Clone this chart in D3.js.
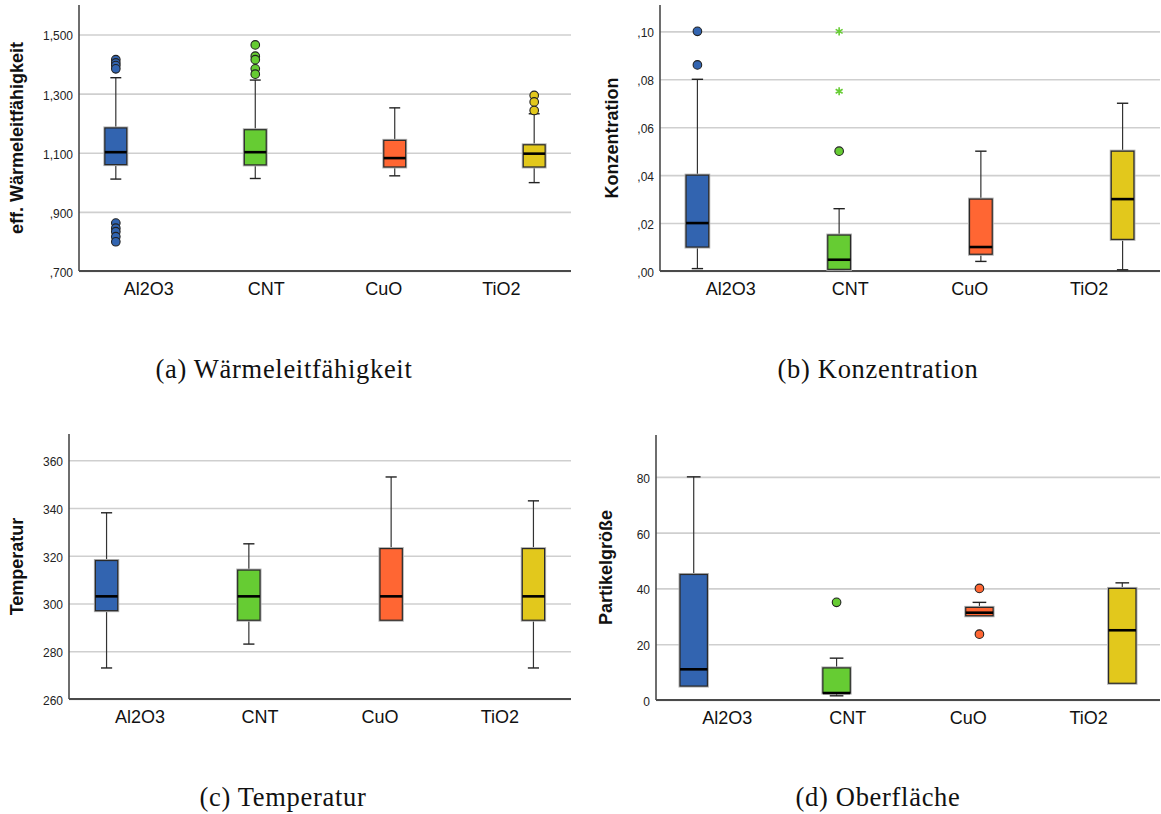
<html>
<head>
<meta charset="utf-8">
<script src="https://d3js.org/d3.v7.min.js"></script>
<style>
  body { margin: 0; background: #fff; }
  text { font-family: "Liberation Sans", Arial, sans-serif; }
</style>
</head>
<body>
<svg id="fig" width="1161" height="814"></svg>
<script>
// Kategorien und Farben
var categories = ["Al2O3", "CNT", "CuO", "TiO2"];
var colors = ["#3264b0", "#66cc33", "#ff6633", "#e2c81c"];

// (a) eff. Wärmeleitfähigkeit: [min, q1, median, q3, max]
var waermeBoxes = [
  [1.011, 1.060, 1.102, 1.184, 1.354],
  [1.013, 1.059, 1.102, 1.178, 1.346],
  [1.022, 1.052, 1.082, 1.142, 1.252],
  [0.999, 1.052, 1.097, 1.127, 1.232]
];
var waermeOutliers = [
  [1.415, 1.404, 1.395, 1.384, 0.862, 0.845, 0.833, 0.816, 0.799],
  [1.465, 1.427, 1.415, 1.384, 1.366],
  [],
  [1.294, 1.272, 1.243]
];
var waermeTicks = [0.7, 0.9, 1.1, 1.3, 1.5];
var waermeTickLabels = [",700", ",900", "1,100", "1,300", "1,500"];

// (b) Konzentration
var konzBoxes = [
  [0.001, 0.010, 0.020, 0.040, 0.080],
  [0.0004, 0.0007, 0.0047, 0.015, 0.026],
  [0.004, 0.007, 0.010, 0.030, 0.050],
  [0.0005, 0.0132, 0.030, 0.050, 0.070]
];
var konzOutliers = [[0.100, 0.086], [0.050], [], []];
var konzExtremes = [[], [0.100, 0.075], [], []];
var konzTicks = [0, 0.02, 0.04, 0.06, 0.08, 0.10];
var konzTickLabels = [",00", ",02", ",04", ",06", ",08", ",10"];

// (c) Temperatur
var tempBoxes = [
  [273, 297, 303, 318, 338],
  [283, 293, 303, 314, 325],
  [293, 293, 303, 323, 353],
  [273, 293, 303, 323, 343]
];
var tempTicks = [260, 280, 300, 320, 340, 360];
var tempTickLabels = ["260", "280", "300", "320", "340", "360"];

// (d) Partikelgröße
var partBoxes = [
  [5, 5, 11, 45, 80],
  [1.5, 2.5, 2.5, 11.5, 15],
  [30, 30.2, 31.3, 33.2, 35],
  [6, 6, 25, 40, 42]
];
var partOutliers = [[], [35], [40, 23.6], []];
var partTicks = [0, 20, 40, 60, 80];
var partTickLabels = ["0", "20", "40", "60", "80"];

var panels = [
  { left: 79, right: 571, top: 5, bottom: 271, domain: [0.7, 1.6],
    ticks: waermeTicks, tickLabels: waermeTickLabels, boxes: waermeBoxes,
    outliers: waermeOutliers, extremes: null, boxScale: 1,
    title: "eff. Wärmeleitfähigkeit", titleX: 23,
    caption: "(a) Wärmeleitfähigkeit", capX: 284, capY: 378 },
  { left: 660, right: 1160, top: 5, bottom: 271, domain: [0, 0.111],
    ticks: konzTicks, tickLabels: konzTickLabels, boxes: konzBoxes,
    outliers: konzOutliers, extremes: konzExtremes, boxScale: 1.02,
    title: "Konzentration", titleX: 618,
    caption: "(b) Konzentration", capX: 878, capY: 378 },
  { left: 69, right: 571, top: 434, bottom: 699, domain: [260, 371],
    ticks: tempTicks, tickLabels: tempTickLabels, boxes: tempBoxes,
    outliers: null, extremes: null, boxScale: 1,
    title: "Temperatur", titleX: 23,
    caption: "(c) Temperatur", capX: 283, capY: 806 },
  { left: 656, right: 1160, top: 435, bottom: 700, domain: [0, 95],
    ticks: partTicks, tickLabels: partTickLabels, boxes: partBoxes,
    outliers: partOutliers, extremes: null, boxScale: 1.22,
    title: "Partikelgröße", titleX: 612,
    caption: "(d) Oberfläche", capX: 878, capY: 806 }
];

var svg = d3.select("#fig");
svg.append("rect").attr("width", 1161).attr("height", 814).attr("fill", "#fff");

panels.forEach(function(p) {
  var w = p.right - p.left, h = p.bottom - p.top;
  var g = svg.append("g").attr("transform", "translate(" + p.left + "," + p.top + ")");

  // Kategorie-Achse (SPSS gruppiert: jede Kategorie hat 4 Plätze)
  var x0 = d3.scaleBand().domain(categories).range([0, w])
    .paddingInner(0.255).paddingOuter(0.22);
  var x1 = d3.scaleBand().domain(categories).range([0, x0.bandwidth()]);
  var y = d3.scaleLinear().domain(p.domain).range([h, 0]);

  // Gitterlinien + Beschriftung
  var ya = g.append("g")
    .call(d3.axisLeft(y).tickValues(p.ticks).tickSize(-w).tickPadding(6)
      .tickFormat(function(d, i) { return p.tickLabels[i]; }));
  ya.select(".domain").remove();
  ya.selectAll("line").attr("stroke", "#cfcfcf").attr("stroke-width", 1.6);
  ya.selectAll("text").attr("font-size", 12).attr("fill", "#222")
    .attr("font-family", "Liberation Sans, Arial, sans-serif").attr("dy", "0.45em");

  var xa = g.append("g").attr("transform", "translate(0," + h + ")")
    .call(d3.axisBottom(x0).tickSize(0).tickPadding(11));
  xa.select(".domain").remove();
  xa.selectAll("text").attr("font-size", 18).attr("fill", "#111")
    .attr("font-family", "Liberation Sans, Arial, sans-serif");

  // Achsenlinien
  g.append("line").attr("x1", 0).attr("x2", 0).attr("y1", 0).attr("y2", h)
    .attr("stroke", "#4a4a4a").attr("stroke-width", 1.6);
  g.append("line").attr("x1", 0).attr("x2", w).attr("y1", h).attr("y2", h)
    .attr("stroke", "#4a4a4a").attr("stroke-width", 1.8);

  var bw = x1.bandwidth() * p.boxScale;

  categories.forEach(function(c, i) {
    var b = p.boxes[i];
    var cx = x0(c) + x1(c) + x1.bandwidth() / 2;
    var col = colors[i];
    var cap = bw * 0.5;

    // Whisker
    g.append("line").attr("x1", cx).attr("x2", cx).attr("y1", y(b[3])).attr("y2", y(b[4]))
      .attr("stroke", "#333").attr("stroke-width", 1.2);
    g.append("line").attr("x1", cx).attr("x2", cx).attr("y1", y(b[1])).attr("y2", y(b[0]))
      .attr("stroke", "#333").attr("stroke-width", 1.2);
    [b[0], b[4]].forEach(function(v) {
      g.append("line").attr("x1", cx - cap / 2).attr("x2", cx + cap / 2)
        .attr("y1", y(v)).attr("y2", y(v))
        .attr("stroke", "#222").attr("stroke-width", 1.4);
    });

    // Box
    g.append("rect").attr("x", cx - bw / 2).attr("y", y(b[3]))
      .attr("width", bw).attr("height", Math.max(0.5, y(b[1]) - y(b[3])))
      .attr("fill", col).attr("stroke", "#b0b0b0").attr("stroke-width", 3);
    g.append("rect").attr("x", cx - bw / 2).attr("y", y(b[3]))
      .attr("width", bw).attr("height", Math.max(0.5, y(b[1]) - y(b[3])))
      .attr("fill", col).attr("stroke", "#2a2a2a").attr("stroke-width", 1.2);
    g.append("line").attr("x1", cx - bw / 2).attr("x2", cx + bw / 2)
      .attr("y1", y(b[2])).attr("y2", y(b[2]))
      .attr("stroke", "#000").attr("stroke-width", 2.6);

    // Ausreißer
    if (p.outliers) {
      g.selectAll(null).data(p.outliers[i]).enter().append("circle")
        .attr("cx", cx).attr("cy", function(d) { return y(d); }).attr("r", 4.3)
        .attr("fill", col).attr("stroke", "#222").attr("stroke-width", 1.1);
    }
    // Extremwerte
    if (p.extremes) {
      var sym = d3.symbol().type(d3.symbolAsterisk || d3.symbolCross).size(45);
      g.selectAll(null).data(p.extremes[i]).enter().append("path")
        .attr("d", sym)
        .attr("transform", function(d) { return "translate(" + cx + "," + y(d) + ")"; })
        .attr("fill", d3.symbolAsterisk ? "none" : col)
        .attr("stroke", col).attr("stroke-width", 1.6);
    }
  });

  // Y-Achsentitel
  svg.append("text")
    .attr("transform", "translate(" + p.titleX + "," + (p.top + h / 2) + ") rotate(-90)")
    .attr("text-anchor", "middle").attr("font-size", 18).attr("font-weight", "bold")
    .attr("fill", "#111").text(p.title);

  // Unterschrift
  svg.append("text").attr("x", p.capX).attr("y", p.capY)
    .attr("text-anchor", "middle").attr("font-size", 26.5)
    .style("font-family", "'Liberation Serif', 'DejaVu Serif', serif")
    .style("letter-spacing", "0.7px")
    .attr("fill", "#111").text(p.caption);
});
</script>
</body>
</html>
